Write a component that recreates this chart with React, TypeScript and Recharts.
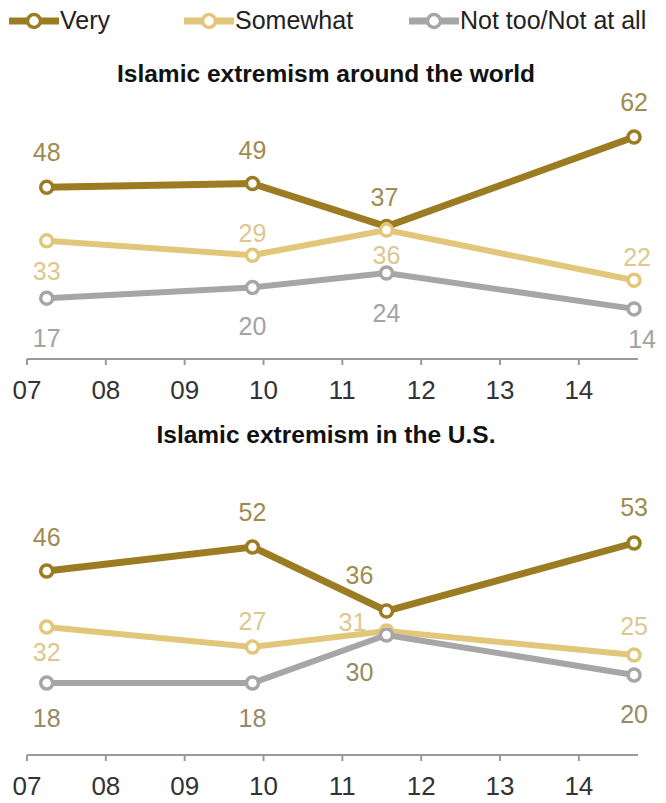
import { LabelList, Line, LineChart, XAxis, YAxis } from "recharts";

// survey dates, as fractional years
const surveyYears = [2007.25, 2009.86, 2011.56, 2014.7];
const tickYears = [2007, 2008, 2009, 2010, 2011, 2012, 2013, 2014];

const worldVery = [48, 49, 37, 62];
const worldSomewhat = [33, 29, 36, 22];
const worldNotToo = [17, 20, 24, 14];

const usVery = [46, 52, 36, 53];
const usSomewhat = [32, 27, 31, 25];
const usNotToo = [18, 18, 30, 20];

const seriesNames = ["Very", "Somewhat", "Not too/Not at all"];

// label placement relative to each point [dx, dy]
const worldOffsets = {
  very: [[0, -35], [0, -34], [-2, -30], [0, -35]],
  somewhat: [[0, 30], [0, -22], [0, 25], [3, -23]],
  notToo: [[0, 40], [0, 39], [0, 40], [8, 30]],
};
const usOffsets = {
  very: [[0, -34], [0, -35], [-27, -36], [0, -36]],
  somewhat: [[0, 25], [0, -26], [-34, -9], [0, -29]],
  notToo: [[0, 35], [0, 35], [-27, 37], [0, 39]],
};

const COLORS = {
  very: "#9c7c22",
  somewhat: "#e2c77b",
  notToo: "#a6a6a6",
};
const LABEL_COLORS = {
  very: "#a08b4f",
  somewhat: "#dcc88f",
  notToo: "#a3a3a3",
};

const FONT = "'Liberation Sans', Arial, sans-serif";

const buildRows = (very: number[], somewhat: number[], notToo: number[]) =>
  surveyYears.map((year, i) => ({
    year,
    very: very[i],
    somewhat: somewhat[i],
    notToo: notToo[i],
  }));

const worldData = buildRows(worldVery, worldSomewhat, worldNotToo);
const usData = buildRows(usVery, usSomewhat, usNotToo);

const makeLabel =
  (offsets: number[][], color: string) =>
  (props: any) => {
    const { x, y, value, index } = props;
    const [dx, dy] = offsets[index] || [0, -30];
    return (
      <text
        x={x + dx}
        y={y + dy}
        fill={color}
        fontSize={25}
        fontFamily={FONT}
        textAnchor="middle"
        dominantBaseline="central"
      >
        {value}
      </text>
    );
  };

function Panel({
  data,
  offsets,
  yMax,
  height,
  marginTop,
  marginBottom,
  axisHeight,
  notTooLabel,
}: {
  data: any[];
  offsets: typeof worldOffsets;
  yMax: number;
  height: number;
  marginTop: number;
  marginBottom: number;
  axisHeight: number;
  notTooLabel: string;
}) {
  const keys: ("very" | "somewhat" | "notToo")[] = ["very", "somewhat", "notToo"];
  const widths = { very: 7, somewhat: 6, notToo: 6 };
  return (
    <LineChart
      width={666}
      height={height}
      data={data}
      margin={{ top: marginTop, right: 28, bottom: marginBottom, left: 27 }}
    >
      <XAxis
        dataKey="year"
        type="number"
        domain={[2007, 2014.75]}
        ticks={tickYears}
        tickFormatter={(v: number) => String(v).slice(2)}
        axisLine={{ stroke: "#9a9a9a", strokeWidth: 2 }}
        tickLine={{ stroke: "#9a9a9a", strokeWidth: 2 }}
        tick={{ fill: "#333", fontSize: 26, fontFamily: FONT }}
        tickSize={6}
        tickMargin={16}
        height={axisHeight}
        interval={0}
      />
      <YAxis hide domain={[0, yMax]} />
      {keys.map((k) => (
        <Line
          key={k}
          type="linear"
          dataKey={k}
          stroke={COLORS[k]}
          strokeWidth={widths[k]}
          dot={{ r: 6, fill: "#fff", stroke: COLORS[k], strokeWidth: 3.5 }}
          activeDot={false}
          isAnimationActive={false}
        >
          <LabelList
            dataKey={k}
            content={makeLabel(
              offsets[k],
              k === "notToo" ? notTooLabel : LABEL_COLORS[k]
            )}
          />
        </Line>
      ))}
    </LineChart>
  );
}

function LegendItem({ left, color, text }: { left: number; color: string; text: string }) {
  return (
    <div style={{ position: "absolute", left, top: 6, display: "flex", alignItems: "center" }}>
      <svg width={50} height={28}>
        <line x1={1} y1={14} x2={49} y2={14} stroke={color} strokeWidth={7} strokeLinecap="round" />
        <circle cx={25} cy={14} r={6.5} fill="#fff" stroke={color} strokeWidth={3.5} />
      </svg>
      <span style={{ fontFamily: FONT, fontSize: 25, color: "#222", marginLeft: 1 }}>{text}</span>
    </div>
  );
}

const titleStyle: React.CSSProperties = {
  position: "absolute",
  left: 0,
  width: 652,
  textAlign: "center",
  fontFamily: FONT,
  fontWeight: 700,
  fontSize: 24.5,
  color: "#111",
};

export default function App() {
  return (
    <div
      style={{
        position: "absolute",
        left: 0,
        top: 0,
        width: 666,
        height: 803,
        background: "#fff",
        overflow: "hidden",
      }}
    >
      <div style={{ position: "absolute", left: 0, top: 60 }}>
        <Panel
          data={worldData}
          offsets={worldOffsets}
          yMax={70}
          height={355}
          marginTop={48.4}
          marginBottom={6}
          axisHeight={50}
          notTooLabel={LABEL_COLORS.notToo}
        />
      </div>
      <div style={{ position: "absolute", left: 0, top: 460 }}>
        <Panel
          data={usData}
          offsets={usOffsets}
          yMax={60}
          height={343}
          marginTop={55}
          marginBottom={3}
          axisHeight={45}
          notTooLabel="#948a66"
        />
      </div>
      <LegendItem left={9} color={COLORS.very} text={seriesNames[0]} />
      <LegendItem left={184} color={COLORS.somewhat} text={seriesNames[1]} />
      <LegendItem left={409} color={COLORS.notToo} text={seriesNames[2]} />
      <div style={{ ...titleStyle, top: 60 }}>Islamic extremism around the world</div>
      <div style={{ ...titleStyle, top: 421 }}>Islamic extremism in the U.S.</div>
    </div>
  );
}
